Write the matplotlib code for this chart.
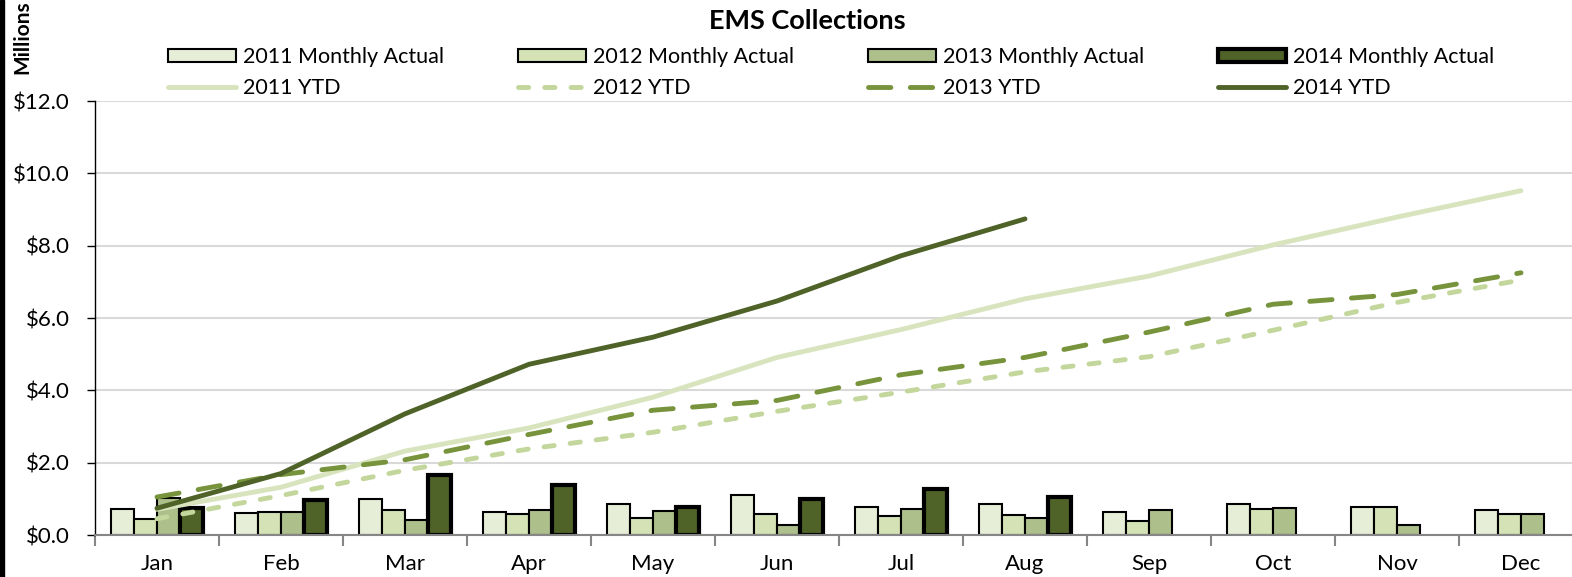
import matplotlib.pyplot as plt
import numpy as np
from matplotlib.patches import Patch, Rectangle
from matplotlib.lines import Line2D

plt.rcParams['font.family'] = ['Lato', 'DejaVu Sans']

# data (millions of $)
months = ['Jan', 'Feb', 'Mar', 'Apr', 'May', 'Jun', 'Jul', 'Aug', 'Sep', 'Oct', 'Nov', 'Dec']
actual_2011 = [0.71, 0.61, 1.00, 0.64, 0.85, 1.10, 0.77, 0.85, 0.63, 0.86, 0.77, 0.69]
actual_2012 = [0.45, 0.64, 0.70, 0.59, 0.46, 0.58, 0.53, 0.56, 0.40, 0.73, 0.77, 0.59]
actual_2013 = [1.03, 0.64, 0.41, 0.70, 0.67, 0.27, 0.71, 0.48, 0.70, 0.75, 0.27, 0.58]
actual_2014 = [0.74, 0.96, 1.65, 1.37, 0.77, 1.00, 1.26, 1.04]
ytd_2011 = [0.71, 1.32, 2.32, 2.96, 3.81, 4.91, 5.68, 6.53, 7.16, 8.02, 8.79, 9.52]
ytd_2012 = [0.45, 1.09, 1.79, 2.38, 2.84, 3.42, 3.95, 4.51, 4.93, 5.66, 6.43, 7.05]
ytd_2013 = [1.05, 1.67, 2.08, 2.78, 3.45, 3.72, 4.43, 4.91, 5.61, 6.38, 6.65, 7.25]
ytd_2014 = [0.74, 1.70, 3.35, 4.72, 5.47, 6.47, 7.72, 8.74]

bar_cols = ['#E6EED8', '#D4E2B6', '#ADBF8A', '#4F6228']
line_cols = ['#D7E4BD', '#C3D69B', '#77933C', '#4F6228']

W, H = 1572, 577
fig = plt.figure(figsize=(W / 100, H / 100), dpi=100)
ax = fig.add_axes([95 / W, 42 / H, 1488 / W, 434 / H])

x = np.arange(len(months))
bw = 0.185
actuals = [actual_2011, actual_2012, actual_2013, actual_2014]
labels_bar = ['2011 Monthly Actual', '2012 Monthly Actual', '2013 Monthly Actual', '2014 Monthly Actual']
for i, vals in enumerate(actuals):
    xs = x[:len(vals)] + (i - 1.5) * bw
    ax.bar(xs, vals, width=bw, color=bar_cols[i], edgecolor='black',
           linewidth=3 if i == 3 else 1.5, zorder=2)

lw = 3.5
ytds = [ytd_2011, ytd_2012, ytd_2013, ytd_2014]
dash_styles = [None, (2.1, 3.3), (4.6, 4.0), None]
labels_line = ['2011 YTD', '2012 YTD', '2013 YTD', '2014 YTD']
for i, vals in enumerate(ytds):
    ln, = ax.plot(x[:len(vals)], vals, color=line_cols[i], lw=lw, zorder=3,
                  solid_capstyle='round', dash_capstyle='round', solid_joinstyle='round')
    if dash_styles[i] is not None:
        ln.set_dashes(dash_styles[i])

ax.set_xlim(-0.5, 11.5)
ax.set_ylim(0, 12)
ax.set_yticks(np.arange(0, 13, 2))
ax.set_yticklabels(['$%.1f' % v for v in np.arange(0, 13, 2)], fontsize=16)
ax.set_xticks(x)
ax.set_xticklabels(months, fontsize=16)
ax.set_xticks(np.arange(-0.5, 12, 1), minor=True)
ax.tick_params(axis='x', which='major', length=0, pad=14)
ax.tick_params(axis='x', which='minor', length=8, width=1.5, color='#868686', direction='out')
ax.tick_params(axis='y', length=6, width=1, color='black', direction='out', pad=12)
ax.grid(axis='y', color='#D9D9D9', lw=1.5, zorder=0)
ax.set_axisbelow(True)
for s in ['top', 'right']:
    ax.spines[s].set_visible(False)
ax.spines['left'].set_color('black')
ax.spines['left'].set_linewidth(1)
ax.spines['bottom'].set_color('#868686')
ax.spines['bottom'].set_linewidth(1.5)
ax.spines['bottom'].set_zorder(4)

# legend: four columns, each holding the bar and its YTD line
for i in range(4):
    h_bar = Patch(facecolor=bar_cols[i], edgecolor='black', linewidth=3 if i == 3 else 1.5)
    h_line = Line2D([], [], color=line_cols[i], lw=lw, solid_capstyle='round', dash_capstyle='round')
    if dash_styles[i] is not None:
        h_line.set_dashes(dash_styles[i])
    fig.legend([h_bar, h_line], [labels_bar[i], labels_line[i]], loc='center left',
               bbox_to_anchor=((168 + 350 * i) / W, 1 - 72.5 / H), frameon=False,
               fontsize=15.5, borderpad=0, borderaxespad=0, handlelength=3.15,
               handleheight=0.6, handletextpad=0.33, labelspacing=0.5)

fig.text(807 / W, 1 - 21 / H, 'EMS Collections', ha='center', va='center',
         fontsize=19.5, fontweight='bold')
fig.text(22 / W, 1 - 37 / H, 'Millions', ha='center', va='center', rotation=90,
         fontsize=15, fontweight='bold')
fig.add_artist(Rectangle((0, 0), 4 / W, 1, transform=fig.transFigure, color='black'))

fig.savefig('out.png', dpi=100)
